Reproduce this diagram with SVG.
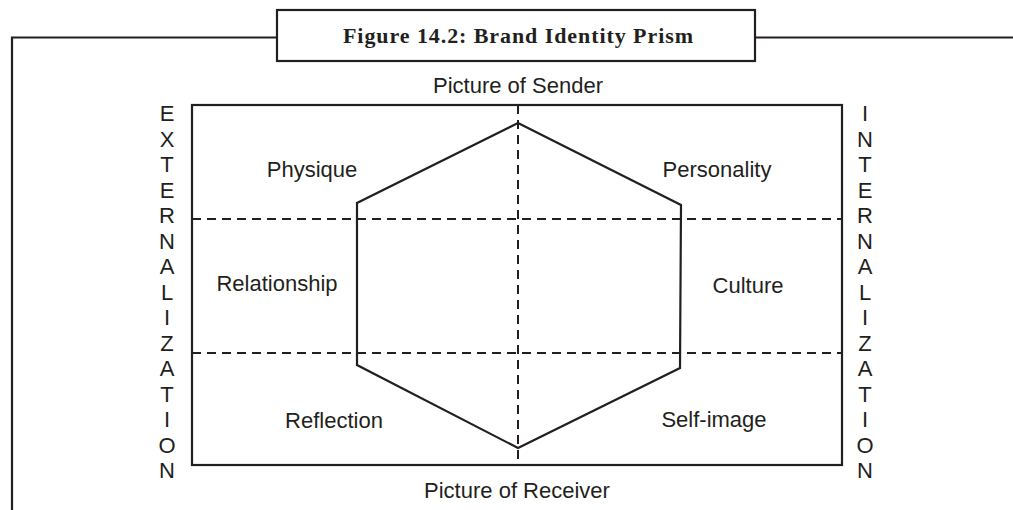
<svg xmlns="http://www.w3.org/2000/svg" width="1013" height="510" viewBox="0 0 1013 510">
<style>
.ln{fill:none;stroke:#231f20;stroke-width:2.2}
.dash{fill:none;stroke:#231f20;stroke-width:2;stroke-dasharray:9 6}
.lbl{font-family:"Liberation Sans",Arial,sans-serif;font-size:22px;fill:#231f20;text-anchor:middle}
.ttl{font-family:"Liberation Serif","Times New Roman",serif;font-size:22px;font-weight:bold;fill:#231f20}
</style>
<rect width="1013" height="510" fill="#fff"/>
<g id="frame">
<path class="ln" d="M12,510 V37.5 H277 M755,37.5 H1013"/>
<rect class="ln" x="277" y="10" width="478" height="51"/>
<text class="ttl" x="343" y="42.5" textLength="350" lengthAdjust="spacing">Figure 14.2: Brand Identity Prism</text>
</g>
<g id="prism-box">
<rect class="ln" x="192" y="105" width="650" height="360" stroke-width="2.5"/>
</g>
<g id="connectors">
<line class="dash" x1="192" y1="219" x2="842" y2="219"/>
<line class="dash" x1="192" y1="353" x2="842" y2="353"/>
<line class="dash" x1="518" y1="105" x2="518" y2="465"/>
</g>
<g id="hexagon">
<polygon class="ln" points="518,123 357,203 357,365 518,448 680,368 681,205"/>
</g>
<g id="label-sender"><text class="lbl" x="518" y="93">Picture of Sender</text></g>
<g id="label-receiver"><text class="lbl" x="517" y="498">Picture of Receiver</text></g>
<g id="physique"><text class="lbl" x="312" y="177">Physique</text></g>
<g id="personality"><text class="lbl" x="717" y="177">Personality</text></g>
<g id="relationship"><text class="lbl" x="277" y="291">Relationship</text></g>
<g id="culture"><text class="lbl" x="748" y="293">Culture</text></g>
<g id="reflection"><text class="lbl" x="334" y="428">Reflection</text></g>
<g id="self-image"><text class="lbl" x="714" y="427">Self-image</text></g>
<g id="externalization">
<text class="lbl" x="167">
<tspan x="167" y="121">E</tspan><tspan x="167" y="146.5">X</tspan><tspan x="167" y="172">T</tspan><tspan x="167" y="197.5">E</tspan><tspan x="167" y="223">R</tspan><tspan x="167" y="248.5">N</tspan><tspan x="167" y="274">A</tspan><tspan x="167" y="299.5">L</tspan><tspan x="167" y="325">I</tspan><tspan x="167" y="350.5">Z</tspan><tspan x="167" y="376">A</tspan><tspan x="167" y="401.5">T</tspan><tspan x="167" y="427">I</tspan><tspan x="167" y="452.5">O</tspan><tspan x="167" y="478">N</tspan>
</text>
</g>
<g id="internalization">
<text class="lbl" x="865">
<tspan x="865" y="121">I</tspan><tspan x="865" y="146.5">N</tspan><tspan x="865" y="172">T</tspan><tspan x="865" y="197.5">E</tspan><tspan x="865" y="223">R</tspan><tspan x="865" y="248.5">N</tspan><tspan x="865" y="274">A</tspan><tspan x="865" y="299.5">L</tspan><tspan x="865" y="325">I</tspan><tspan x="865" y="350.5">Z</tspan><tspan x="865" y="376">A</tspan><tspan x="865" y="401.5">T</tspan><tspan x="865" y="427">I</tspan><tspan x="865" y="452.5">O</tspan><tspan x="865" y="478">N</tspan>
</text>
</g>
</svg>
